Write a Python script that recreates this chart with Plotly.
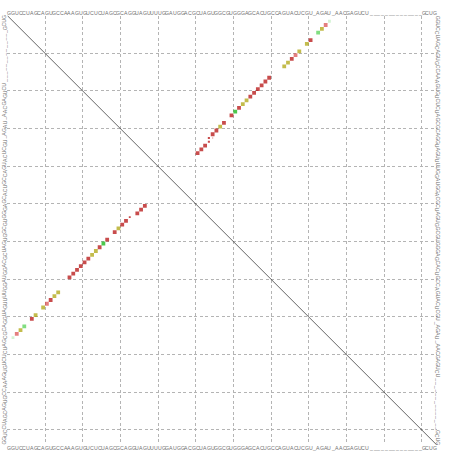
import plotly.graph_objects as go

# ---- data ---------------------------------------------------------------
sequence = ("GGUCCUAGCAGUGCCAAAGUGUCUCUAGCGCAGGUAGUUUUGGAUGGACGCUAGUGGCG"
            "UGGGAGCACUGCCAGUACUCGU_AGAU_AACGAGUCU"
            "______________"
            "GCUG")

# base pairs (i < j)
pair_i = [2, 3, 4, 5, 7, 8, 10, 11, 12, 13, 14, 17, 18, 19, 20, 21, 22, 23, 24,
          25, 26, 27, 29, 30, 31, 32, 33, 35, 36, 37]
pair_j = [86, 85, 84, 83, 81, 80, 78, 77, 76, 75, 74, 70, 69, 68, 67, 66, 65, 64, 63,
          62, 61, 60, 58, 57, 56, 55, 54, 53, 52, 51]
pair_kind = ["ltgreen", "pink", "ochre", "green2", "red", "ochre", "ochre", "pink", "red",
             "ochre", "ochre", "red", "red", "red", "red", "red", "red", "ochre", "ochre",
             "red", "green", "red", "red", "ochre", "red", "red", "red", "red", "red", "red"]
# relative box size (sqrt of probability) in upper triangle
pair_prob = [0.75, 1, 1, 1, 1, 1, 1, 1, 1, 1, 1, 1, 1, 1, 1, 1, 1, 1, 1,
             1, 1, 1, 1, 1, 1, 1, 0.55, 1, 1, 1]
# relative box size in lower (mfe) triangle
mfe_size = [0.75, 1, 1, 1, 1, 1, 1, 1, 1, 1, 1, 1, 1, 1, 1, 1, 1, 1, 1,
            1, 1, 1, 1, 1, 1, 1, 0.5, 1, 1, 1]

# extra weak pairs only in the probability triangle
extra_i = [34, 33]
extra_j = [54, 55]
extra_kind = ["red", "pink"]
extra_prob = [0.55, 0.3]

kind_colors = {
    "red": "#b00000",
    "ochre": "#aaa000",
    "green": "#00b000",
    "green2": "#4cd04c",
    "pink": "#d84848",
    "ltgreen": "#c0eec0",
}

grid_step = 10
# ---- figure --------------------------------------------------------------
n = len(sequence)
box = 3.8

fig = go.Figure()

# diagonal
fig.add_trace(go.Scatter(x=[0.5, n + 0.5], y=[0.5, n + 0.5], mode="lines",
                         line=dict(color="#222222", width=0.7), hoverinfo="skip",
                         showlegend=False))

# upper triangle: probabilities
up_x = pair_j + extra_j
up_y = pair_i + extra_i
up_c = [kind_colors[k] for k in pair_kind + extra_kind]
up_s = [box * p for p in pair_prob + extra_prob]
fig.add_trace(go.Scatter(x=up_x, y=up_y, mode="markers",
                         marker=dict(symbol="square", size=up_s, color=up_c,
                                     line=dict(width=0)),
                         showlegend=False))

# lower triangle: mfe
fig.add_trace(go.Scatter(x=pair_i, y=pair_j, mode="markers",
                         marker=dict(symbol="square", size=[box * s for s in mfe_size],
                                     color=[kind_colors[k] for k in pair_kind],
                                     line=dict(width=0)),
                         showlegend=False))

W, H = 452, 451
x0, x1 = 7.33, 436.8
y0, y1 = 15.6, 445.0

# sequence around the plot
font = dict(family="Liberation Sans, Arial, sans-serif", size=5.2, color="#707070")
top_y = (H - 13.0) / H
bot_y = (H - 447.5) / H
left_x = 4.5 / W
right_x = 437.8 / W
ann = []
for k, ch in enumerate(sequence, start=1):
    ann.append(dict(x=k, y=top_y, xref="x", yref="paper", text=ch, showarrow=False,
                    font=font, xanchor="center", yanchor="middle"))
    ann.append(dict(x=k, y=bot_y, xref="x", yref="paper", text=ch, showarrow=False,
                    font=font, xanchor="center", yanchor="middle"))
    ann.append(dict(x=left_x, y=n + 1 - k, xref="paper", yref="y", text=ch, showarrow=False,
                    font=font, xanchor="center", yanchor="middle", textangle=-90))
    ann.append(dict(x=right_x, y=k, xref="paper", yref="y", text=ch, showarrow=False,
                    font=font, xanchor="center", yanchor="middle", textangle=90))

grid_vals = [g + 0.5 for g in range(grid_step, n, grid_step)]
axis_common = dict(showticklabels=False, ticks="", zeroline=False, showline=False,
                   showgrid=True, gridcolor="#b4b4b4", gridwidth=1, griddash="3px,2.5px",
                   tickmode="array", tickvals=grid_vals, fixedrange=True)

fig.update_layout(
    width=W, height=H,
    margin=dict(l=0, r=0, t=0, b=0),
    paper_bgcolor="white", plot_bgcolor="white",
    xaxis=dict(range=[0.5, n + 0.5], domain=[x0 / W, x1 / W], **axis_common),
    yaxis=dict(range=[n + 0.5, 0.5], domain=[(H - y1) / H, (H - y0) / H], **axis_common),
    annotations=ann,
    showlegend=False,
)

fig.write_html("out.html", config={"displayModeBar": False},
               post_script="document.body.style.margin='0';document.body.style.overflow='hidden';")
